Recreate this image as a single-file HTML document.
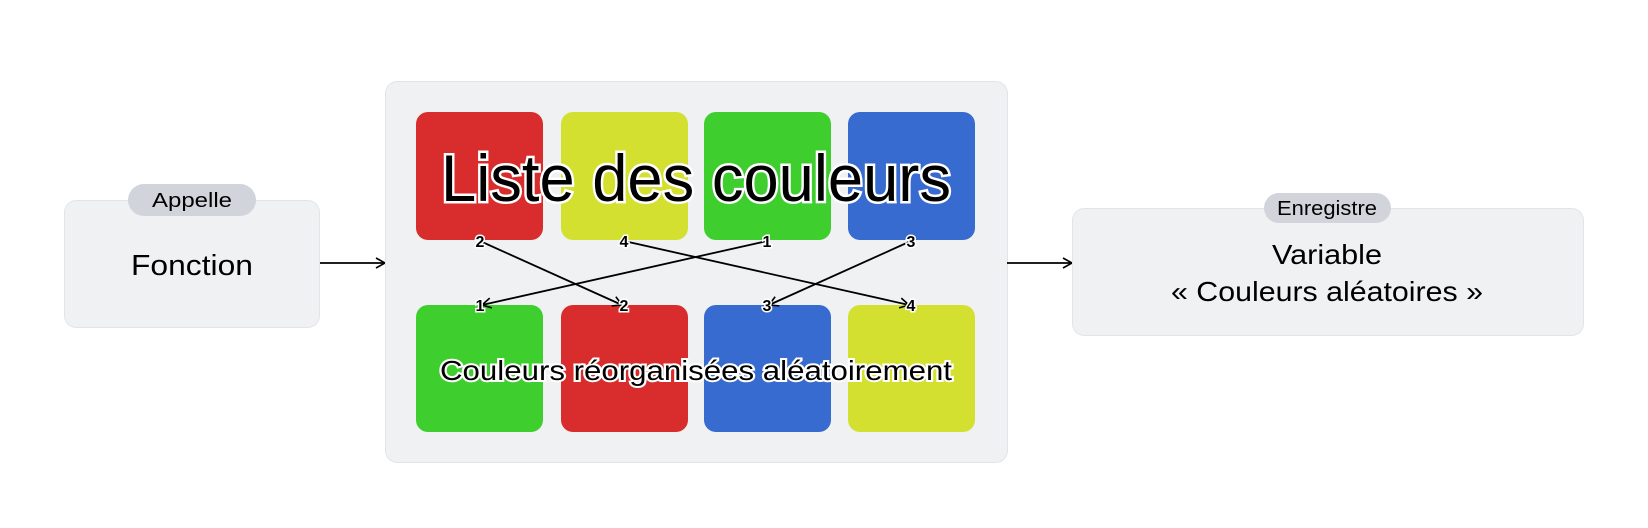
<!DOCTYPE html>
<html><head><meta charset="utf-8"><style>
html,body{margin:0;padding:0;background:#fff;width:1648px;height:528px;overflow:hidden}
svg{display:block}
text{font-family:"Liberation Sans",sans-serif}
</style></head><body>
<svg width="1648" height="528" viewBox="0 0 1648 528" xmlns="http://www.w3.org/2000/svg">
<defs>
<marker id="ah" markerWidth="12" markerHeight="12" refX="10" refY="6" orient="auto" markerUnits="userSpaceOnUse">
<path d="M1,1 L10,6 L1,11" fill="none" stroke="#000" stroke-width="1.6"/>
</marker>
</defs>
<!-- Fonction -->
<rect x="64.5" y="200.5" width="255" height="127" rx="12" fill="#f0f1f3" stroke="#e3e4e7"/>
<rect x="128" y="184" width="128" height="32" rx="16" fill="#d1d4db"/>
<text x="192" y="207" font-size="20" text-anchor="middle" textLength="80" lengthAdjust="spacingAndGlyphs">Appelle</text>
<text x="192" y="275" font-size="29" text-anchor="middle" textLength="122" lengthAdjust="spacingAndGlyphs">Fonction</text>
<line x1="320" y1="263" x2="385" y2="263" stroke="#000" stroke-width="1.8" marker-end="url(#ah)"/>
<!-- container -->
<rect x="385.5" y="81.5" width="622" height="381" rx="12" fill="#f0f1f3" stroke="#e3e4e7"/>
<g>
<rect x="416" y="112" width="127" height="128" rx="12" fill="#d92d2d"/>
<rect x="561" y="112" width="127" height="128" rx="12" fill="#d3e030"/>
<rect x="704" y="112" width="127" height="128" rx="12" fill="#3ecf2f"/>
<rect x="848" y="112" width="127" height="128" rx="12" fill="#386bcf"/>
<rect x="416" y="305" width="127" height="127" rx="12" fill="#3ecf2f"/>
<rect x="561" y="305" width="127" height="127" rx="12" fill="#d92d2d"/>
<rect x="704" y="305" width="127" height="127" rx="12" fill="#386bcf"/>
<rect x="848" y="305" width="127" height="127" rx="12" fill="#d3e030"/>
</g>
<g stroke="#000" stroke-width="1.8" marker-end="url(#ah)">
<line x1="480" y1="241" x2="622" y2="305"/>
<line x1="624" y1="241" x2="909" y2="305"/>
<line x1="767" y1="241" x2="482" y2="305"/>
<line x1="911" y1="241" x2="769" y2="305"/>
</g>
<g font-size="16" font-weight="bold" text-anchor="middle" fill="#000" stroke="#fff" stroke-width="3" paint-order="stroke">
<text x="480" y="247">2</text>
<text x="624" y="247">4</text>
<text x="767" y="247">1</text>
<text x="911" y="247">3</text>
<text x="480" y="311">1</text>
<text x="624" y="311">2</text>
<text x="767" y="311">3</text>
<text x="911" y="311">4</text>
</g>
<text x="696" y="201" font-size="66" text-anchor="middle" textLength="510" lengthAdjust="spacingAndGlyphs" fill="#000" stroke="#fff" stroke-width="5" paint-order="stroke">Liste des couleurs</text>
<text x="696" y="380" font-size="28" text-anchor="middle" textLength="512" lengthAdjust="spacingAndGlyphs" fill="#000" stroke="#fff" stroke-width="4" paint-order="stroke">Couleurs réorganisées aléatoirement</text>
<line x1="1007" y1="263" x2="1072" y2="263" stroke="#000" stroke-width="1.8" marker-end="url(#ah)"/>
<!-- Variable -->
<rect x="1072.5" y="208.5" width="511" height="127" rx="12" fill="#f0f1f3" stroke="#e3e4e7"/>
<rect x="1264" y="193" width="127" height="30" rx="15" fill="#d1d4db"/>
<text x="1327" y="215" font-size="20" text-anchor="middle" textLength="100" lengthAdjust="spacingAndGlyphs">Enregistre</text>
<text x="1327" y="264" font-size="28" text-anchor="middle" textLength="110" lengthAdjust="spacingAndGlyphs">Variable</text>
<text x="1327" y="301" font-size="28" text-anchor="middle" textLength="312" lengthAdjust="spacingAndGlyphs">« Couleurs aléatoires »</text>
</svg>
</body></html>
